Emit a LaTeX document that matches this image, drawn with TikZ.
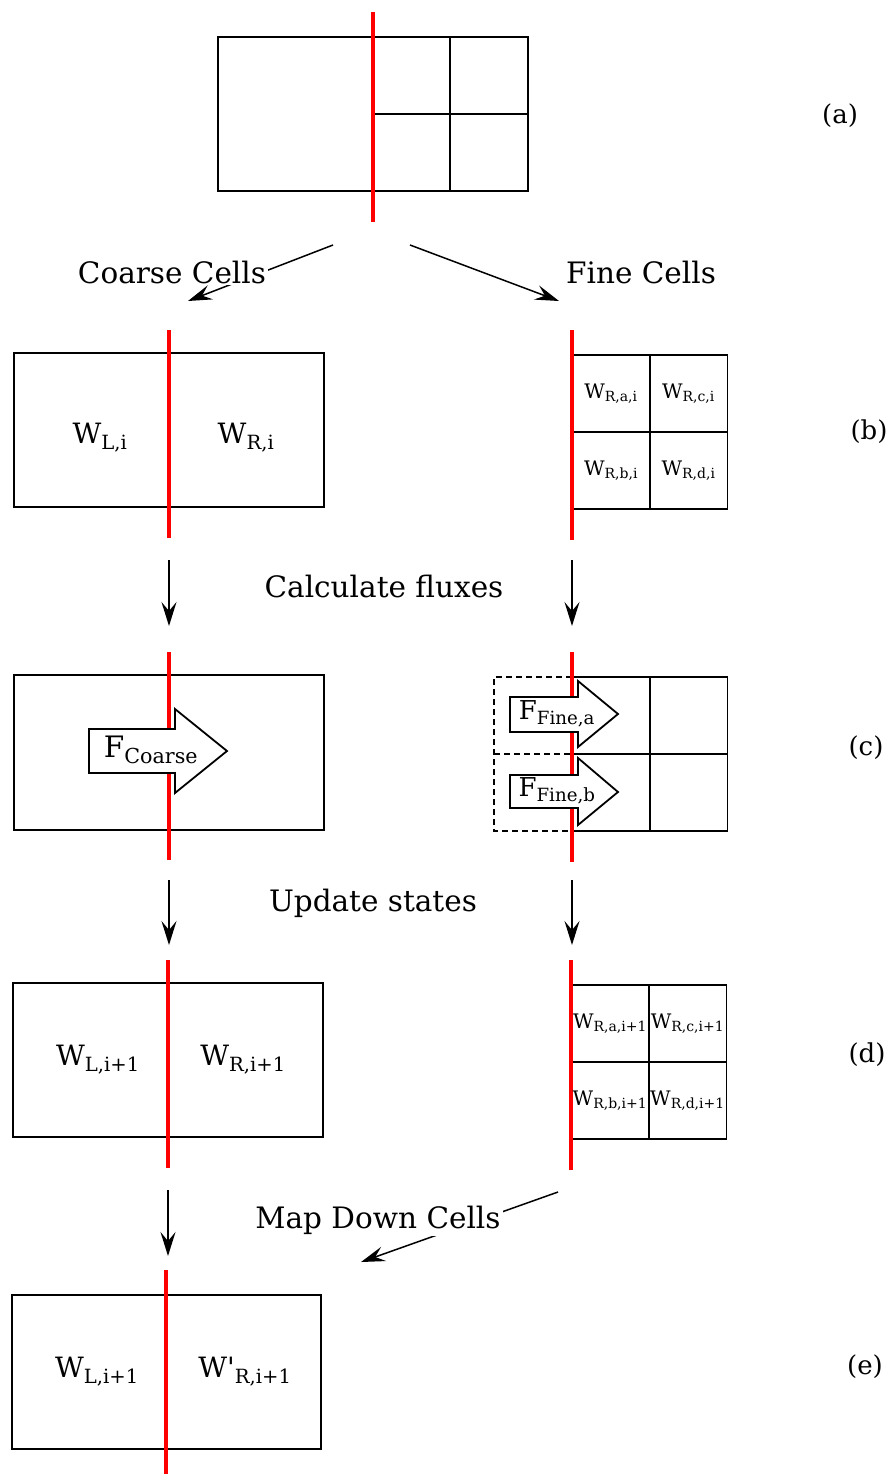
\documentclass[tikz,border=0pt]{standalone}
\usepackage{fontspec}
\setmainfont{DejaVu Serif}
\usetikzlibrary{arrows.meta}
\newcommand{\bigfont}{\fontsize{29.5}{34}\selectfont}
\newcommand{\wfont}{\fontsize{28}{32}\selectfont}
\newcommand{\cellfont}{\fontsize{20}{24}\selectfont}
\newcommand{\lblfont}{\fontsize{26}{30}\selectfont}
\newcommand{\ffont}{\fontsize{26}{30}\selectfont}
\begin{document}
\begin{tikzpicture}[x=1pt,y=-1pt,
  outline/.style={draw, line width=1.9pt},
  dashbox/.style={draw, line width=1.7pt, dash pattern=on 6pt off 4pt},
  redline/.style={draw=red, line width=3.3pt},
  conn/.style={line width=1.5pt, -{Stealth[length=24pt,width=15pt,inset=9pt]}},
  cell/.style={outline, minimum width=78pt, minimum height=77pt, inner sep=0pt},
  bigbox/.style={outline, minimum width=310pt, minimum height=154pt, inner sep=0pt},
  wbig/.style={font=\wfont, inner sep=1pt},
  wcell/.style={font=\cellfont, inner sep=0pt},
  sidelbl/.style={font=\lblfont},
  caption/.style={font=\bigfont, fill=white, inner sep=2pt},
  fluxarrow/.style={draw, fill=white, line width=1.8pt, line join=miter}
]
\useasboundingbox (0,0) rectangle (893,1475);

% ---------- (a) ----------
\node[bigbox] (aBox) at (373,114) {};
\draw[outline] (450,37) -- (450,191);
\draw[outline] (373,114) -- (528,114);
\coordinate (aTop) at (373,12);
\coordinate (aBot) at (373,222);
\draw[redline] (aTop) -- (aBot);
\node[sidelbl] (la) at (840,116) {(a)};

% connectors a -> b
\coordinate (cStart) at (333,245);
\coordinate (cEnd) at (188,301);
\coordinate (fStart) at (410,245);
\coordinate (fEnd) at (559,301);
\draw[conn] (cStart) -- (cEnd);
\draw[conn] (fStart) -- (fEnd);
\node[caption] (coarse) at (172,272) {Coarse Cells};
\node[font=\bigfont, inner sep=0pt] (fine) at (641,272) {Fine Cells};

% ---------- (b) ----------
\node[bigbox] (bL) at (169,430) {};
\coordinate (bLTop) at (169,330);
\coordinate (bLBot) at (169,538);
\draw[redline] (bLTop) -- (bLBot);
\node[wbig] (wLi) at (100,438) {W\textsubscript{L,i}};
\node[wbig] (wRi) at (246,438) {W\textsubscript{R,i}};

\node[cell] (b1) at (611,393.5) {};
\node[cell] (b2) at (688.5,393.5) {};
\node[cell] (b3) at (611,470.5) {};
\node[cell] (b4) at (688.5,470.5) {};
\coordinate (bRTop) at (572,330);
\coordinate (bRBot) at (572,540);
\draw[redline] (bRTop) -- (bRBot);
\node[wcell] at (b1) {W\textsubscript{R,a,i}};
\node[wcell] at (b2) {W\textsubscript{R,c,i}};
\node[wcell] at (b3) {W\textsubscript{R,b,i}};
\node[wcell] at (b4) {W\textsubscript{R,d,i}};
\node[sidelbl] (lb) at (869,432) {(b)};

% arrows b -> c
\coordinate (bcL1) at (169,560);
\coordinate (bcL2) at (169,626);
\coordinate (bcR1) at (572,560);
\coordinate (bcR2) at (572,626);
\draw[conn] (bcL1) -- (bcL2);
\draw[conn] (bcR1) -- (bcR2);
\node[font=\bigfont] (calc) at (384,586) {Calculate fluxes};

% ---------- (c) ----------
\node[outline, minimum width=310pt, minimum height=155pt, inner sep=0pt] (cL) at (169,752.5) {};
\coordinate (cLTop) at (169,652);
\coordinate (cLBot) at (169,860);
\draw[redline] (cLTop) -- (cLBot);
\draw[fluxarrow] (89,729) -- (175,729) -- (175,709) -- (227,751) -- (175,793) -- (175,773) -- (89,773) -- cycle;
\node[font=\bigfont, inner sep=0pt] (fc) at (151,750) {F\textsubscript{Coarse}};

\node[cell] (c2) at (611,715.5) {};
\node[cell] (c3) at (688.5,715.5) {};
\node[cell] (c5) at (611,792.5) {};
\node[cell] (c6) at (688.5,792.5) {};
\draw[dashbox] (572,677) -- (494,677) -- (494,831) -- (572,831);
\draw[dashbox] (494,754) -- (572,754);
\coordinate (cRTop) at (572,652);
\coordinate (cRBot) at (572,862);
\draw[redline] (cRTop) -- (cRBot);
\draw[fluxarrow] (510,697) -- (578,697) -- (578,681) -- (618,714) -- (578,747) -- (578,732) -- (510,732) -- cycle;
\draw[fluxarrow] (510,775) -- (578,775) -- (578,758) -- (618,792) -- (578,825) -- (578,808) -- (510,808) -- cycle;
\node[font=\ffont, inner sep=0pt] (ffa) at (557,714) {F\textsubscript{Fine,a}};
\node[font=\ffont, inner sep=0pt] (ffb) at (557,791) {F\textsubscript{Fine,b}};
\node[sidelbl] (lc) at (866,748) {(c)};

% arrows c -> d
\coordinate (cdL1) at (169,880);
\coordinate (cdL2) at (169,945);
\coordinate (cdR1) at (572,880);
\coordinate (cdR2) at (572,945);
\draw[conn] (cdL1) -- (cdL2);
\draw[conn] (cdR1) -- (cdR2);
\node[font=\bigfont] (upd) at (373,903) {Update states};

% ---------- (d) ----------
\node[bigbox] (dL) at (168,1060) {};
\coordinate (dLTop) at (168,960);
\coordinate (dLBot) at (168,1168);
\draw[redline] (dLTop) -- (dLBot);
\node[wbig] (wLi1) at (98,1060) {W\textsubscript{L,i+1}};
\node[wbig] (wRi1) at (243,1060) {W\textsubscript{R,i+1}};

\node[cell] (d1) at (610,1023.5) {};
\node[cell] (d2) at (687.5,1023.5) {};
\node[cell] (d3) at (610,1100.5) {};
\node[cell] (d4) at (687.5,1100.5) {};
\coordinate (dRTop) at (571,960);
\coordinate (dRBot) at (571,1170);
\draw[redline] (dRTop) -- (dRBot);
\node[wcell] at (d1) {W\textsubscript{R,a,i+1}};
\node[wcell] at (d2) {W\textsubscript{R,c,i+1}};
\node[wcell] at (d3) {W\textsubscript{R,b,i+1}};
\node[wcell] at (d4) {W\textsubscript{R,d,i+1}};
\node[sidelbl] (ld) at (867,1055) {(d)};

% arrows d -> e
\coordinate (deL1) at (168,1190);
\coordinate (deL2) at (168,1256);
\coordinate (mStart) at (558,1192);
\coordinate (mEnd) at (361,1262);
\draw[conn] (deL1) -- (deL2);
\draw[conn] (mStart) -- (mEnd);
\node[caption] (mapdown) at (378,1220) {Map Down Cells};

% ---------- (e) ----------
\node[outline, minimum width=309pt, minimum height=154pt, inner sep=0pt] (eL) at (166.5,1372) {};
\coordinate (eLTop) at (166,1270);
\coordinate (eLBot) at (166,1474);
\draw[redline] (eLTop) -- (eLBot);
\node[wbig] (wLi2) at (97,1372) {W\textsubscript{L,i+1}};
\node[wbig] (wRp) at (245,1372) {W\textquotesingle\textsubscript{R,i+1}};
\node[sidelbl] (le) at (865,1367) {(e)};
\end{tikzpicture}
\end{document}
